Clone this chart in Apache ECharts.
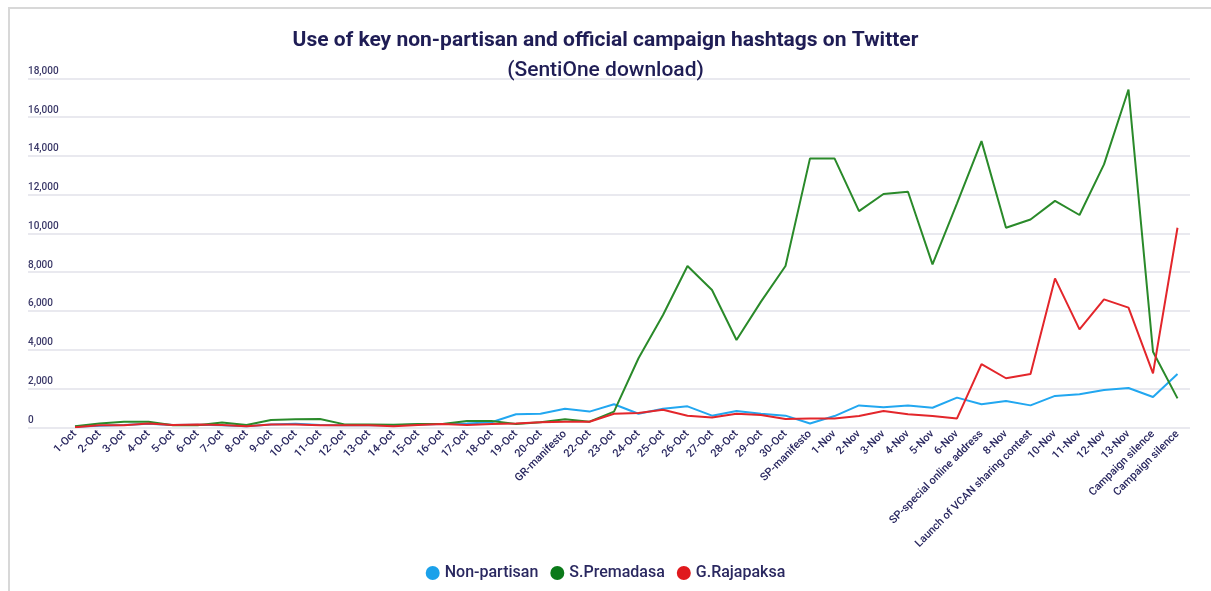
<!DOCTYPE html>
<html>
<head>
<meta charset="utf-8">
<script src="https://cdn.jsdelivr.net/npm/echarts@6/dist/echarts.min.js"></script>
<style>
html,body{margin:0;padding:0;background:#fff;}
#c{width:1211px;height:591px;}
</style>
</head>
<body>
<div id="c"></div>
<script>
const categories = ['1-Oct','2-Oct','3-Oct','4-Oct','5-Oct','6-Oct','7-Oct','8-Oct','9-Oct','10-Oct','11-Oct','12-Oct','13-Oct','14-Oct','15-Oct','16-Oct','17-Oct','18-Oct','19-Oct','20-Oct','GR-manifesto','22-Oct','23-Oct','24-Oct','25-Oct','26-Oct','27-Oct','28-Oct','29-Oct','30-Oct','SP-manifesto','1-Nov','2-Nov','3-Nov','4-Nov','5-Nov','6-Nov','SP-special online address','8-Nov','Launch of VCAN sharing contest','10-Nov','11-Nov','12-Nov','13-Nov','Campaign silence','Campaign silence'];

const nonPartisan = [30,80,120,180,120,130,100,60,150,180,120,100,100,100,150,170,200,260,670,700,960,810,1190,700,960,1080,600,840,700,600,200,580,1130,1030,1120,1010,1530,1190,1360,1130,1620,1700,1920,2030,1560,2750];
const premadasa = [50,200,290,290,110,110,250,120,380,420,430,150,150,130,170,170,330,330,170,260,410,290,810,3560,5790,8320,7080,4500,6480,8320,13870,13870,11150,12030,12150,8400,11550,14760,10290,10720,11680,10950,13560,17420,3900,1490];
const rajapaksa = [0,100,100,200,120,150,120,60,150,150,100,100,100,60,120,170,120,170,200,260,290,290,700,740,910,600,500,700,640,430,450,460,580,840,670,580,460,3260,2530,2750,7680,5050,6600,6170,2780,10290];

const yTicks = {min:0, max:18000, interval:2000};
const seriesNames = ['Non-partisan','S.Premadasa','G.Rajapaksa'];
const colors = ['#22a7f0','#2a8a2a','#e3262b'];
const legendColors = ['#1ba1ea','#0b7a1a','#e0191d'];

const chart = echarts.init(document.getElementById('c'), null, {renderer:'canvas'});
const textColor = '#2a2860';
const font = 'Roboto, "Noto Sans", sans-serif';
const TOP = 78.3, BOTTOM = 163.7;

chart.setOption({
  backgroundColor:'#fff',
  textStyle:{fontFamily:font},
  title:[
    {text:'Use of key non-partisan and official campaign hashtags on Twitter', left:'center', top:25,
     textStyle:{fontFamily:font, fontSize:21, fontWeight:'bold', color:'#1f1d55'}},
    {text:'(SentiOne download)', left:'center', top:55,
     textStyle:{fontFamily:font, fontSize:21, fontWeight:500, color:'#1f1d55'}}
  ],
  graphic:[
    {type:'rect', shape:{x:8, y:7, width:1203, height:2}, style:{fill:'#d8d8d8'}, silent:true},
    {type:'rect', shape:{x:8, y:7, width:2, height:584}, style:{fill:'#d8d8d8'}, silent:true}
  ],
  legend:{
    bottom:5, left:'center', icon:'circle', itemWidth:14, itemHeight:14, itemGap:12,
    textStyle:{fontFamily:font, fontSize:16, fontWeight:500, color:textColor},
    data:seriesNames.map((n,i)=>({name:n, itemStyle:{color:legendColors[i]}}))
  },
  grid:[
    {left:28, right:21, top:TOP, bottom:BOTTOM},
    {left:62.75, right:21.25, top:TOP, bottom:BOTTOM}
  ],
  xAxis:[
    {type:'value', gridIndex:0, show:false, min:0, max:1},
    {type:'category', gridIndex:1, data:categories, boundaryGap:true,
     axisLine:{show:false}, axisTick:{show:false},
     axisLabel:{interval:0, rotate:45, fontSize:11, fontWeight:500, color:textColor, fontFamily:font, margin:5}}
  ],
  yAxis:[
    {type:'value', gridIndex:0, min:yTicks.min, max:yTicks.max, interval:yTicks.interval,
     axisLine:{show:false}, axisTick:{show:false},
     splitLine:{lineStyle:{color:'#e2e2ea', width:1.5}},
     axisLabel:{inside:true, verticalAlign:'bottom', margin:0, padding:[0,0,2,0], fontSize:10, fontWeight:500, color:'#3a3868', fontFamily:font,
       formatter:v=>v.toLocaleString('en-US')}},
    {type:'value', gridIndex:1, min:yTicks.min, max:yTicks.max, show:false, splitLine:{show:false}}
  ],
  series:[nonPartisan, premadasa, rajapaksa].map((d,i)=>({
    name:seriesNames[i], type:'line', xAxisIndex:1, yAxisIndex:1, data:d,
    symbol:'none', smooth:false, color:colors[i],
    lineStyle:{width:2, color:colors[i]}, itemStyle:{color:legendColors[i]},
    z: i===0 ? 2 : (i===1 ? 3 : 4)
  }))
});
</script>
</body>
</html>
